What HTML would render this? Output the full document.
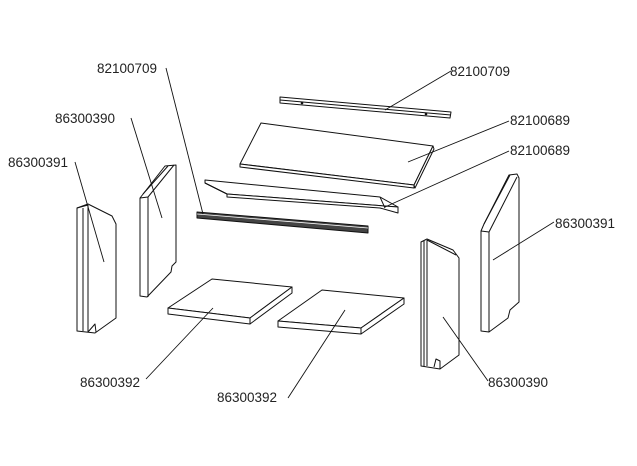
<!DOCTYPE html>
<html><head><meta charset="utf-8"><style>
html,body{margin:0;padding:0;background:#fff;}
svg{display:block}
text{font-family:"Liberation Sans",sans-serif;font-size:13.5px;fill:#222;}
</style></head><body>
<svg width="637" height="466" viewBox="0 0 637 466" xmlns="http://www.w3.org/2000/svg">
<g fill="#fff" stroke="#111" stroke-width="1" stroke-linejoin="round">
<!-- top bar -->
<polygon points="280,97 451,112 450,118 280,103"/>
<line x1="280" y1="100" x2="451" y2="115"/>
<circle cx="302" cy="103" r="0.8" fill="#111"/><circle cx="426" cy="114" r="0.8" fill="#111"/>
<!-- top plate -->
<polygon points="261,123 433,146 414,185 240,164"/>
<polygon points="240,164 414,185 414,188 240,167"/>
<polygon points="433,146 434,149 415,188 414,185"/>
<!-- angled plate -->
<polygon points="205,180 380,197 398,207 227,194 205,183"/>
<polygon points="227,194 398,207 398,213 380,208 227,197"/>
<line x1="205" y1="183" x2="227" y2="194"/>
<line x1="380" y1="197" x2="385" y2="208"/>
<!-- lower bar -->
<polygon points="197,212 368,226 368,233 197,218" fill="#444"/>
<line x1="197" y1="214" x2="368" y2="228" stroke="#fff" stroke-width="0.8"/>
<!-- far left panel 86300391 -->
<polygon points="77,208 88,204 112,216 116,224 116,318 95,333 77,331"/>
<line x1="83" y1="208" x2="83" y2="331"/>
<line x1="88" y1="205" x2="88" y2="332"/>
<line x1="77" y1="208" x2="88" y2="205"/>
<polyline points="88,332 95,324 96,332" fill="none"/>
<!-- left panel 86300390 -->
<polygon points="140,198 165,166 176,165 176,262 172,266 171,272 147,297 140,296"/>
<line x1="148" y1="197" x2="148" y2="297"/>
<line x1="140" y1="198" x2="148" y2="197"/>
<line x1="148" y1="197" x2="174" y2="165"/>
<line x1="143" y1="194" x2="168" y2="166"/>
<!-- bottom slabs -->
<polygon points="168,308 212,279 292,287 250,318"/>
<polygon points="168,308 250,318 250,324 168,314"/>
<polygon points="250,318 292,287 292,293 250,324"/>
<polygon points="278,321 322,290 404,298 361,328"/>
<polygon points="278,321 361,328 361,334 278,327"/>
<polygon points="361,328 404,298 404,304 361,334"/>
<!-- right panel 86300390 -->
<polygon points="421,242 427,239 453,250 459,258 459,355 440,369 421,366"/>
<line x1="427" y1="240" x2="427" y2="366"/>
<line x1="424" y1="241" x2="424" y2="366"/>
<line x1="427" y1="240" x2="456" y2="255"/>
<polyline points="434,367 436,359 440,361 440,369" fill="none"/>
<!-- right panel 86300391 -->
<polygon points="481,231 484,224 509,175 517,174 519,178 519,302 510,310 508,318 489,332 481,331"/>
<line x1="489" y1="232" x2="489" y2="332"/>
<line x1="481" y1="231" x2="489" y2="232"/>
<line x1="489" y1="232" x2="517" y2="177"/>
<line x1="484" y1="224" x2="510" y2="175"/>
</g>
<g stroke="#111" stroke-width="0.9" fill="none">
<line x1="385" y1="110" x2="451" y2="71"/>
<line x1="408" y1="162" x2="509" y2="121"/>
<line x1="385" y1="207" x2="509" y2="151"/>
<line x1="203" y1="214" x2="166" y2="68"/>
<line x1="162" y1="218" x2="131" y2="118"/>
<line x1="104" y1="262" x2="75" y2="162"/>
<line x1="213" y1="308" x2="146" y2="379"/>
<line x1="345" y1="310" x2="288" y2="398"/>
<line x1="443" y1="317" x2="488" y2="381"/>
<line x1="493" y1="260" x2="554" y2="222"/>
</g>
<text x="450" y="76">82100709</text>
<text x="510" y="125">82100689</text>
<text x="510" y="155">82100689</text>
<text x="97" y="73">82100709</text>
<text x="55" y="123">86300390</text>
<text x="8" y="167">86300391</text>
<text x="80" y="387">86300392</text>
<text x="217" y="402">86300392</text>
<text x="488" y="387">86300390</text>
<text x="555" y="228">86300391</text>
</svg>
</body></html>
